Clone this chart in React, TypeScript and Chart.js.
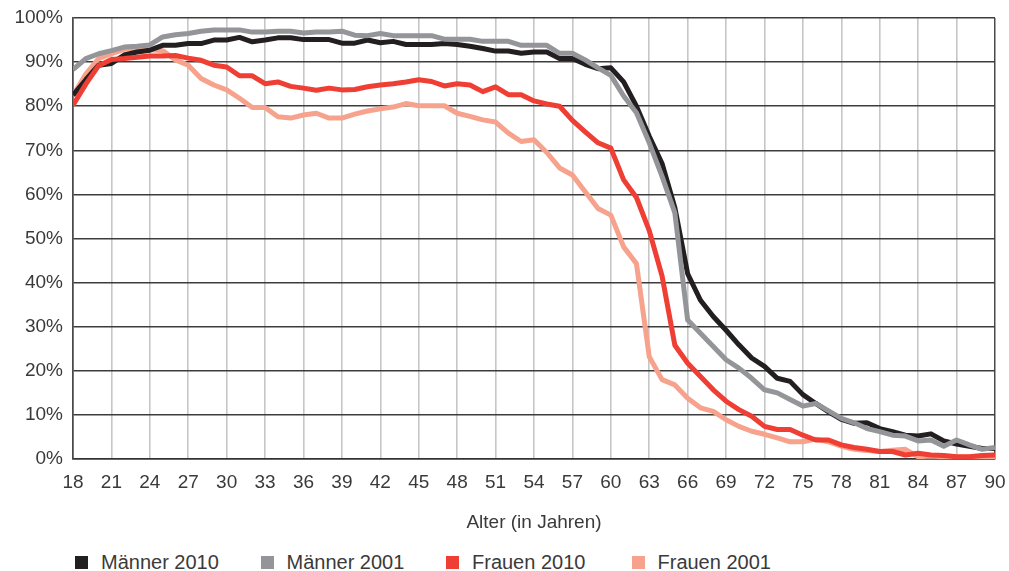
import React, { useEffect, useRef } from "react";
import { Chart, registerables } from "chart.js";

Chart.register(...registerables);

const ages = [
  18, 19, 20, 21, 22, 23, 24, 25, 26, 27, 28, 29, 30, 31, 32, 33, 34, 35, 36, 37,
  38, 39, 40, 41, 42, 43, 44, 45, 46, 47, 48, 49, 50, 51, 52, 53, 54, 55, 56, 57,
  58, 59, 60, 61, 62, 63, 64, 65, 66, 67, 68, 69, 70, 71, 72, 73, 74, 75, 76, 77,
  78, 79, 80, 81, 82, 83, 84, 85, 86, 87, 88, 89, 90,
];

const maenner2010 = [
  82.5, 86, 89.3, 89.7, 91.6, 92.3, 92.7, 93.8, 93.8, 94.2, 94.2, 95, 95, 95.6, 94.6, 95, 95.5, 95.5, 95.1, 95.1,
  95.1, 94.3, 94.3, 95, 94.4, 94.7, 94, 94, 94, 94.2, 94, 93.6, 93.1, 92.5, 92.5, 92, 92.3, 92.3, 90.8, 90.8,
  89.5, 88.5, 88.7, 85.5, 80, 73.2, 67, 57, 42, 36, 32.3, 29.2, 25.9, 22.9, 21, 18.3, 17.6, 14.6, 12.6, 10.7,
  9, 8.1, 8.2, 6.9, 6.2, 5.4, 5.2, 5.7, 4.1, 3.4, 2.9, 2.4, 2.4,
];

const maenner2001 = [
  88.3, 90.8, 91.9, 92.6, 93.4, 93.6, 93.9, 95.7, 96.2, 96.5, 97, 97.3, 97.3, 97.3, 96.8, 96.8, 97, 97, 96.6, 96.8,
  96.8, 97, 96.1, 96, 96.5, 96, 96, 96, 96, 95.2, 95.2, 95.2, 94.7, 94.7, 94.7, 93.8, 93.8, 93.8, 92, 92,
  90.5, 88.7, 87, 82.3, 78.5, 71.7, 64.1, 55.8, 31.5, 28.5, 25.5, 22.5, 20.6, 18.3, 15.7, 15, 13.5, 12, 12.6, 10.9,
  9.2, 8.2, 6.9, 6.2, 5.4, 5.2, 4.1, 4.3, 2.9, 4.3, 3.2, 2.2, 2.6,
];

const frauen2010 = [
  80.2, 85, 89.2, 90.6, 90.8, 91.1, 91.4, 91.4, 91.5, 90.9, 90.4, 89.3, 88.9, 86.9, 86.9, 85.1, 85.5, 84.5, 84.1, 83.6,
  84.1, 83.7, 83.8, 84.4, 84.8, 85.1, 85.5, 86, 85.6, 84.6, 85.1, 84.8, 83.3, 84.4, 82.6, 82.6, 81.2, 80.5, 80, 76.8,
  74.2, 71.7, 70.5, 63.3, 59.3, 51.8, 41.5, 25.8, 21.7, 18.7, 15.7, 13.1, 11.2, 9.7, 7.4, 6.7, 6.7, 5.4, 4.3, 4.3,
  3.2, 2.6, 2.2, 1.7, 1.7, 0.9, 1.3, 0.9, 0.8, 0.5, 0.5, 0.8, 0.9,
];

const frauen2001 = [
  82.4, 87.3, 90.8, 91.9, 92.9, 93.2, 92.8, 92.6, 90.5, 89.3, 86.3, 84.8, 83.7, 81.8, 79.7, 79.7, 77.6, 77.3, 78, 78.4,
  77.3, 77.3, 78.2, 78.9, 79.4, 79.8, 80.6, 80.1, 80.1, 80.1, 78.4, 77.7, 76.9, 76.4, 73.9, 72, 72.4, 69.5, 66, 64.4,
  60.6, 56.8, 55.3, 48.1, 44.3, 23.2, 18, 16.8, 13.8, 11.6, 10.8, 8.9, 7.4, 6.3, 5.6, 4.8, 3.9, 3.9, 4.5, 3.9,
  2.9, 2.2, 1.9, 1.7, 2, 2.2, 0.5, 0.7, 0.5, 0.4, 0.4, 0.5, 0.5,
];

const seriesNames = ["Männer 2010", "Männer 2001", "Frauen 2010", "Frauen 2001"];
const seriesColors = ["#231f20", "#939598", "#ef3e33", "#f7a28c"];
const seriesValues = [maenner2010, maenner2001, frauen2010, frauen2001];
const seriesOrder = [2, 1, 0, 3];

const xAxisTitle = "Alter (in Jahren)";

const FONT = "'Liberation Sans', Arial, sans-serif";
const TEXT = "#3a3a3a";

export default function App() {
  const ref = useRef<HTMLCanvasElement | null>(null);

  useEffect(() => {
    if (!ref.current) return;
    const chart = new Chart(ref.current, {
      type: "line",
      data: {
        datasets: seriesNames.map((name, i) => ({
          label: name,
          data: ages.map((a, j) => ({ x: a, y: seriesValues[i][j] })),
          borderColor: seriesColors[i],
          backgroundColor: seriesColors[i],
          borderWidth: 5,
          pointRadius: 0,
          tension: 0,
          borderJoinStyle: "round" as const,
          order: seriesOrder[i],
          fill: false,
        })),
      },
      options: {
        animation: false,
        responsive: false,
        layout: { padding: { top: 18, right: 14, left: 0, bottom: 0 } },
        plugins: {
          legend: { display: false },
          tooltip: { enabled: false },
        },
        scales: {
          x: {
            type: "linear",
            min: 18,
            max: 90,
            ticks: {
              stepSize: 3,
              padding: 12,
              color: TEXT,
              font: { family: FONT, size: 19 },
              maxRotation: 0,
            },
            grid: {
              drawTicks: false,
              color: (ctx: any) =>
                ctx.tick && (ctx.tick.value === 18 || ctx.tick.value === 90) ? "#4a4a4a" : "#c6c6c6",
              lineWidth: (ctx: any) =>
                ctx.tick && (ctx.tick.value === 18 || ctx.tick.value === 90) ? 1.5 : 1.6,
            },
            border: { display: true, color: "#333", width: 1.5 },
            title: {
              display: true,
              text: xAxisTitle,
              color: TEXT,
              font: { family: FONT, size: 19 },
              padding: { top: 6, bottom: 6 },
            },
            afterFit: (s: any) => {
              s.height = 81;
              s.paddingLeft = 0;
              s.paddingRight = 0;
            },
          },
          y: {
            min: 0,
            max: 100,
            ticks: {
              stepSize: 10,
              padding: 10,
              color: TEXT,
              font: { family: FONT, size: 19 },
              callback: (v: any) => v + "%",
            },
            grid: {
              drawTicks: false,
              color: "#3c3c3c",
              lineWidth: 1.4,
            },
            border: { display: true, color: "#4a4a4a", width: 1.5 },
            afterFit: (s: any) => {
              s.width = 73;
              s.paddingTop = 0;
              s.paddingBottom = 0;
            },
          },
        },
      },
    });
    return () => chart.destroy();
  }, []);

  return (
    <div
      style={{
        position: "fixed",
        left: 0,
        top: 0,
        width: 1009,
        height: 571,
        background: "#fff",
        overflow: "hidden",
      }}
    >
      <canvas ref={ref} width={1009} height={540} style={{ display: "block" }} />
      <div
        style={{
          position: "absolute",
          left: 75,
          top: 551,
          display: "flex",
          fontFamily: FONT,
          fontSize: 20,
          color: TEXT,
          lineHeight: "22px",
        }}
      >
        {seriesNames.map((n, i) => (
          <div key={n} style={{ width: 185.5, display: "flex", alignItems: "center" }}>
            <span
              style={{
                display: "inline-block",
                width: 13,
                height: 13,
                background: seriesColors[i],
                marginRight: 13,
              }}
            />
            <span>{n}</span>
          </div>
        ))}
      </div>
    </div>
  );
}
